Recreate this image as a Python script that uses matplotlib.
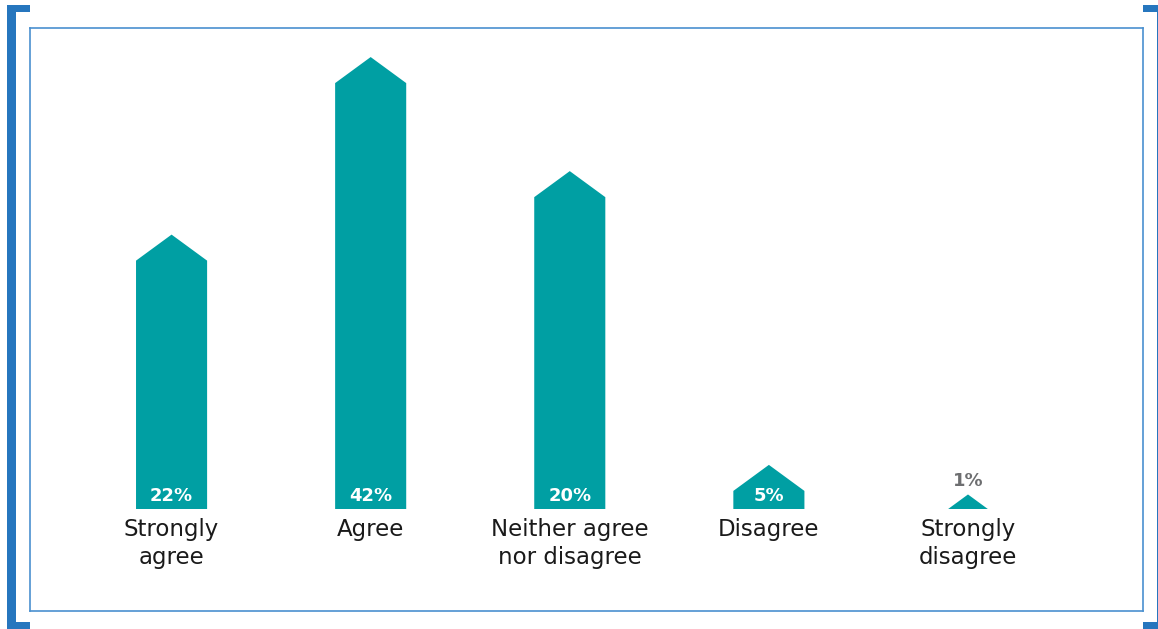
#!/usr/bin/env python3
"""Survey response distribution drawn as arrow-head bars inside a bracketed frame."""
import matplotlib
matplotlib.use("Agg")
import matplotlib.pyplot as plt
from matplotlib.patches import Polygon, Rectangle

CATEGORIES = ["Strongly\nagree", "Agree", "Neither agree\nnor disagree", "Disagree", "Strongly\ndisagree"]
VALUE_LABELS = ["22%", "42%", "20%", "5%", "1%"]
# bar heights as drawn in the source picture (not proportional to the labels)
BAR_HEIGHTS = [25.5, 42.0, 31.4, 4.1, 1.35]

TEAL = "#009FA3"
FRAME_BLUE = "#2676BE"
INNER_BLUE = "#4A90CF"
GREY_TEXT = "#6D6E70"

W, H = 1158, 629
HEAD = 2.42      # arrow-head height in data units
BAR_W = 0.357    # bar width in category units

plt.rcParams["font.family"] = ["DejaVu Sans"]

fig = plt.figure(figsize=(W / 100, H / 100), dpi=100)

# decorative brackets drawn in pixel space
deco = fig.add_axes([0, 0, 1, 1])
deco.set_xlim(0, W)
deco.set_ylim(H, 0)
deco.axis("off")
for x0, y0, w, h in [(7, 5, 9, 630), (7, 5, 23, 7), (7, 622, 23, 8),
                     (1157, 5, 9, 630), (1143, 5, 23, 7), (1143, 622, 23, 8)]:
    deco.add_patch(Rectangle((x0, y0), w, h, color=FRAME_BLUE, lw=0))

ax = fig.add_axes([30 / W, 1 - 611 / H, (1143 - 30) / W, (611 - 28) / H])
ax.set_xlim(-0.711, 4.879)
ax.set_ylim(-9.48, 44.7)
ax.set_xticks([])
ax.set_yticks([])
ax.patch.set_alpha(0)
for sp in ax.spines.values():
    sp.set_color(INNER_BLUE)
    sp.set_linewidth(1.2)

for i, (h, val, cat) in enumerate(zip(BAR_HEIGHTS, VALUE_LABELS, CATEGORIES)):
    half = BAR_W / 2
    if h > HEAD:
        pts = [(i - half, 0), (i - half, h - HEAD), (i, h), (i + half, h - HEAD), (i + half, 0)]
    else:
        tw = half * h / HEAD
        pts = [(i - tw, 0), (i, h), (i + tw, 0)]
    ax.add_patch(Polygon(pts, closed=True, color=TEAL, lw=0))

    if h > HEAD + 0.5:
        ax.text(i, 1.25, val, ha="center", va="center", color="white",
                fontsize=13, fontweight="bold")
    else:
        ax.text(i, h + 1.25, val, ha="center", va="center", color=GREY_TEXT,
                fontsize=13, fontweight="bold")

    ax.text(i, -0.8, cat, ha="center", va="top", color="#1A1A1A",
            fontsize=16.5, linespacing=1.28)

fig.savefig("out.png", dpi=100)
